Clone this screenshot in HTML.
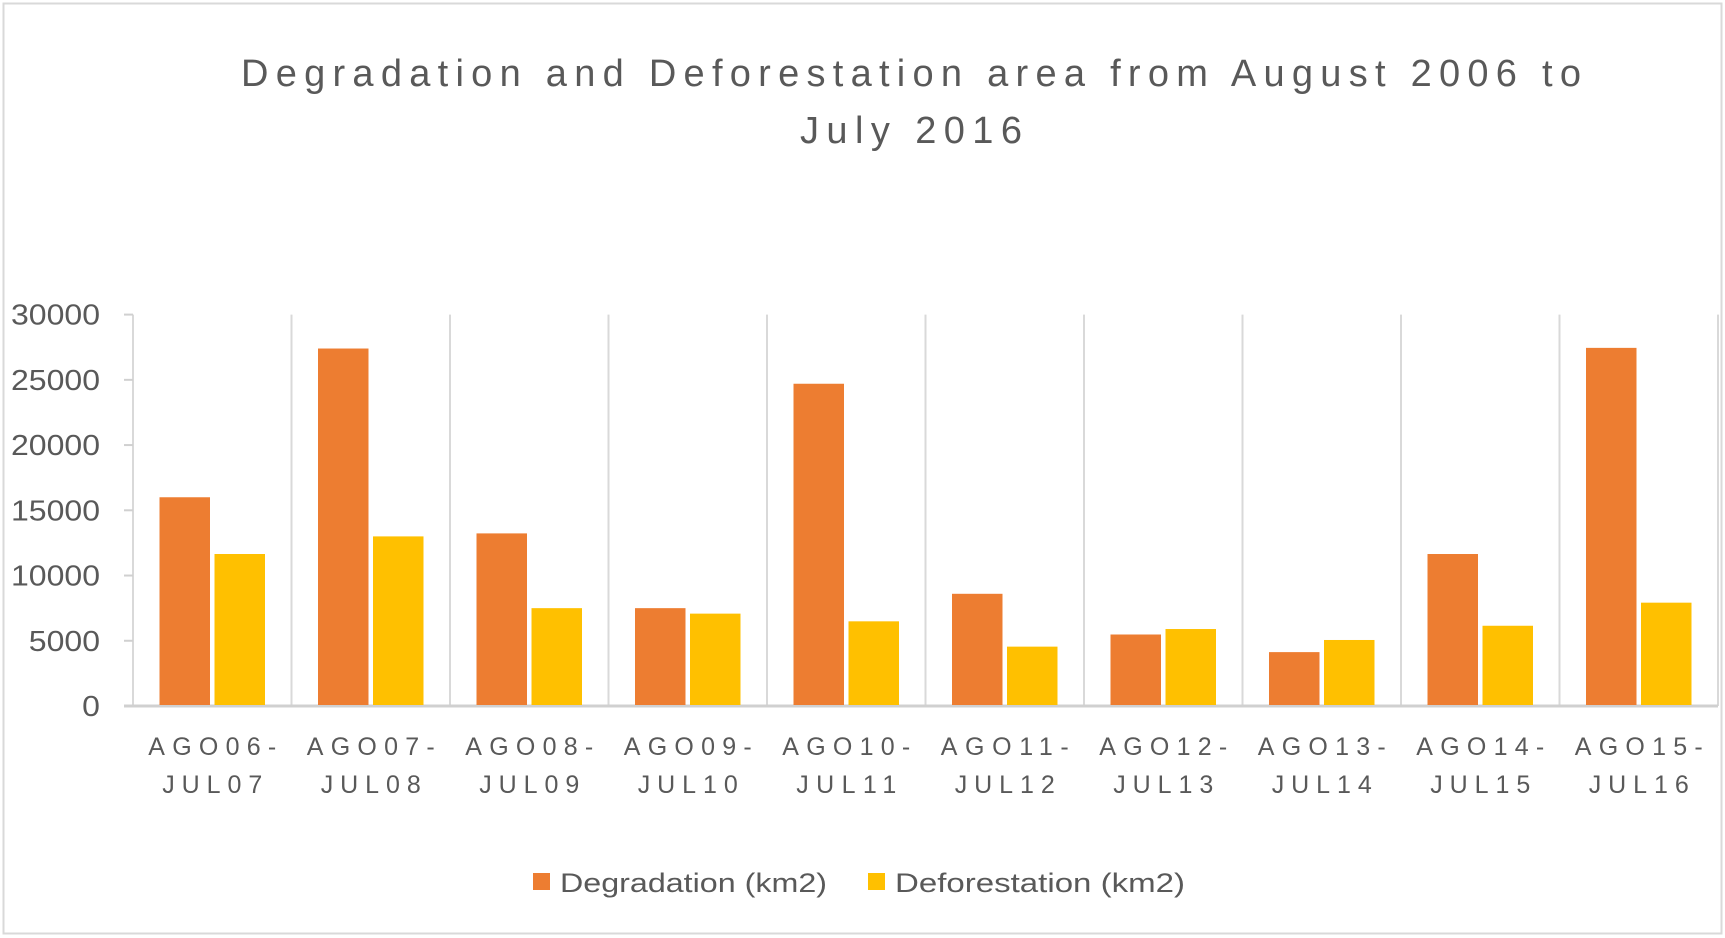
<!DOCTYPE html>
<html><head><meta charset="utf-8"><style>
html,body{margin:0;padding:0;background:#fff;}
svg{display:block;font-family:"Liberation Sans",sans-serif;}
</style></head><body>
<svg id="chart" width="1725" height="938" viewBox="0 0 1725 938">
<rect x="3.5" y="3.5" width="1718" height="930" fill="#fff" stroke="#d9d9d9" stroke-width="2"/>
<text x="911" y="86" text-anchor="middle" font-size="38" fill="#595959" textLength="1340" lengthAdjust="spacing">Degradation and Deforestation area from August 2006 to</text>
<text x="911" y="143" text-anchor="middle" font-size="38" fill="#595959" textLength="222" lengthAdjust="spacing">July 2016</text>
<g id="grid"></g><g id="bars"></g><g id="yticks"></g><g id="xlabels"></g>
<g>
<rect x="533" y="873" width="17" height="17" fill="#ED7D31"/>
<text x="560" y="892" font-size="27" fill="#595959" textLength="267" lengthAdjust="spacingAndGlyphs">Degradation (km2)</text>
<rect x="868" y="873" width="17" height="17" fill="#FFC000"/>
<text x="895" y="892" font-size="27" fill="#595959" textLength="290" lengthAdjust="spacingAndGlyphs">Deforestation (km2)</text>
</g>
</svg>
<script>
const categoriesTop = ["AGO06-","AGO07-","AGO08-","AGO09-","AGO10-","AGO11-","AGO12-","AGO13-","AGO14-","AGO15-"];
const categoriesBottom = ["JUL07","JUL08","JUL09","JUL10","JUL11","JUL12","JUL13","JUL14","JUL15","JUL16"];
const degradation = [16000,27400,13230,7500,24700,8600,5480,4130,11650,27450];
const deforestation = [11650,13000,7500,7080,6490,4550,5900,5060,6150,7920];
const yTicks = [0,5000,10000,15000,20000,25000,30000];

const NS="http://www.w3.org/2000/svg";
const plotL=133, plotR=1718, plotTop=314.6, plotBot=706, yMax=30000;
const catW=(plotR-plotL)/categoriesTop.length;
function y(v){return plotBot-(v/yMax)*(plotBot-plotTop);}
function x(i){return plotL+i*catW;}
function mk(tag,attrs,parent){const e=document.createElementNS(NS,tag);for(const k in attrs)e.setAttribute(k,attrs[k]);parent.appendChild(e);return e;}
const grid=document.getElementById('grid'),bars=document.getElementById('bars'),yt=document.getElementById('yticks'),xl=document.getElementById('xlabels');
for(let i=0;i<=categoriesTop.length;i++){
  const l=mk('line',{x1:x(i),x2:x(i),y1:plotTop,y2:plotBot,stroke:'#d9d9d9','stroke-width':2},grid);
  
  
}
const ax=mk('line',{x1:124,x2:plotR,y1:plotBot,y2:plotBot,stroke:'#d0d0d0','stroke-width':3},grid);


yTicks.forEach(v=>{
  const tk=mk('line',{x1:124,x2:plotL,y1:y(v),y2:y(v),stroke:'#d0d0d0','stroke-width':2},yt);
  
  
  const s=String(v);
  const t=mk('text',{x:100,y:y(v)+10,'text-anchor':'end','font-size':29,fill:'#595959',textLength:s.length*17.8,lengthAdjust:'spacingAndGlyphs'},yt);
  t.textContent=s;
  
  
});
const off=26.5,bw=50.5,gap=4.5;
categoriesTop.forEach((c,i)=>{
  const r1=mk('rect',{x:x(i)+off,y:y(degradation[i]),width:bw,height:plotBot-1-y(degradation[i]),fill:'#ED7D31'},bars);
  
  
  const r2=mk('rect',{x:x(i)+off+bw+gap,y:y(deforestation[i]),width:bw,height:plotBot-1-y(deforestation[i]),fill:'#FFC000'},bars);
  
  
  const cx=x(i)+catW/2;
  const t1=mk('text',{x:cx,y:755,'text-anchor':'middle','font-size':25,fill:'#595959',textLength:128,lengthAdjust:'spacing'},xl);
  t1.textContent=c;
  
  
  const t2=mk('text',{x:cx,y:793,'text-anchor':'middle','font-size':25,fill:'#595959',textLength:100,lengthAdjust:'spacing'},xl);
  t2.textContent=categoriesBottom[i];
  
  
});
</script>
</body></html>
